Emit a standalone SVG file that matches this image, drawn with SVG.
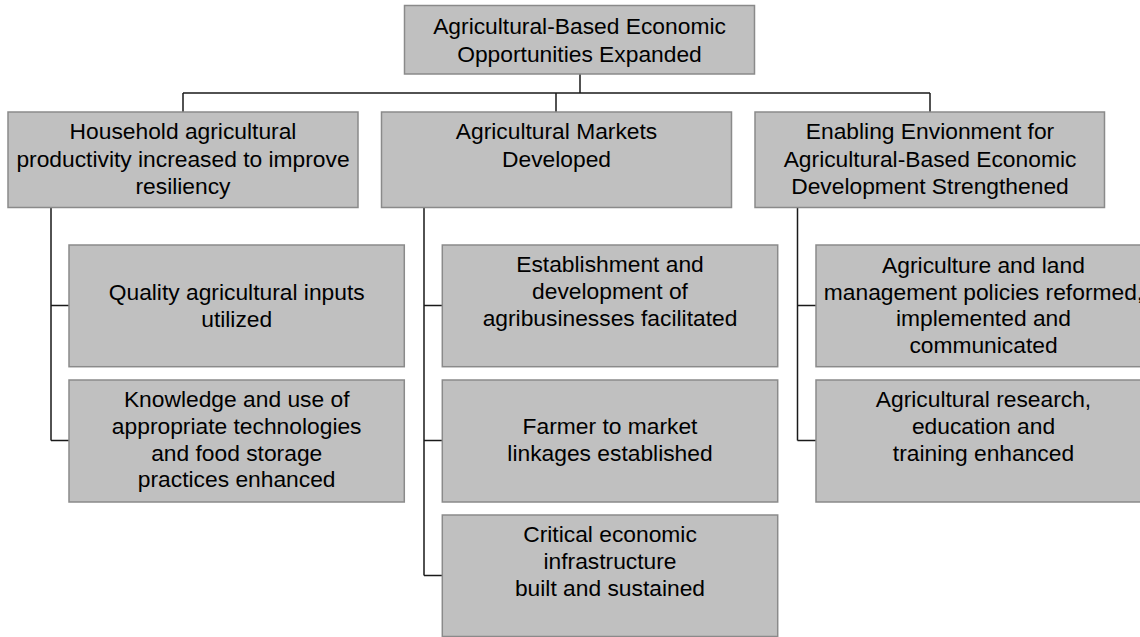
<svg xmlns="http://www.w3.org/2000/svg" width="1140" height="637" viewBox="0 0 1140 637">
<style>
.box{fill:#c0c0c0;stroke:#8a8a8a;stroke-width:1.5}
.lbl{font-family:"Liberation Sans",Arial,sans-serif;font-size:22.8px;fill:#000;text-anchor:middle}
.conn{fill:none;stroke:#1a1a1a;stroke-width:1.5}
</style>
<rect width="1140" height="637" fill="#fff"/>
<g id="connectors">
<path class="conn" d="M580 74V93M183 93H930M183 93V112M556 93V112M930 93V112"/>
<path class="conn" d="M51 207V440.5M51 305.5H69M51 440.5H69"/>
<path class="conn" d="M424 207V575.5M424 305.5H442.5M424 440.5H442.5M424 575.5H442.5"/>
<path class="conn" d="M797.5 207V440.5M797.5 305.5H816M797.5 440.5H816"/>
</g>
<g id="goal">
<rect class="box" x="404.5" y="5.5" width="350" height="68.5"/>
<text class="lbl" x="579.5" y="34.3">Agricultural-Based Economic</text>
<text class="lbl" x="579.5" y="61.7">Opportunities Expanded</text>
</g>
<g id="ir1">
<rect class="box" x="8" y="112" width="350" height="95.5"/>
<text class="lbl" x="183" y="139.3">Household agricultural</text>
<text class="lbl" x="183" y="166.8">productivity increased to improve</text>
<text class="lbl" x="183" y="194.3">resiliency</text>
</g>
<g id="ir2">
<rect class="box" x="381.5" y="112" width="350" height="95.5"/>
<text class="lbl" x="556.5" y="139.3">Agricultural Markets</text>
<text class="lbl" x="556.5" y="166.8">Developed</text>
</g>
<g id="ir3">
<rect class="box" x="755" y="112" width="349.5" height="95.5"/>
<text class="lbl" x="930" y="139.3">Enabling Envionment for</text>
<text class="lbl" x="930" y="166.8">Agricultural-Based Economic</text>
<text class="lbl" x="930" y="194.3">Development Strengthened</text>
</g>
<g id="sub11">
<rect class="box" x="69" y="245" width="335.3" height="121.7"/>
<text class="lbl" x="236.7" y="300">Quality agricultural inputs</text>
<text class="lbl" x="236.7" y="326.5">utilized</text>
</g>
<g id="sub12">
<rect class="box" x="69" y="380" width="335.3" height="122"/>
<text class="lbl" x="236.7" y="406.7">Knowledge and use of</text>
<text class="lbl" x="236.7" y="434">appropriate technologies</text>
<text class="lbl" x="236.7" y="461">and food storage</text>
<text class="lbl" x="236.7" y="487.3">practices enhanced</text>
</g>
<g id="sub21">
<rect class="box" x="442.3" y="245" width="335.4" height="121.7"/>
<text class="lbl" x="610" y="272.3">Establishment and</text>
<text class="lbl" x="610" y="299.3">development of</text>
<text class="lbl" x="610" y="326">agribusinesses facilitated</text>
</g>
<g id="sub22">
<rect class="box" x="442.3" y="380" width="335.4" height="122"/>
<text class="lbl" x="610" y="434.3">Farmer to market</text>
<text class="lbl" x="610" y="460.7">linkages established</text>
</g>
<g id="sub23">
<rect class="box" x="442.3" y="515" width="335.4" height="121.5"/>
<text class="lbl" x="610" y="542.3">Critical economic</text>
<text class="lbl" x="610" y="569.3">infrastructure</text>
<text class="lbl" x="610" y="596">built and sustained</text>
</g>
<g id="sub31">
<rect class="box" x="816" y="245" width="335.5" height="121.7"/>
<text class="lbl" x="983.5" y="272.5">Agriculture and land</text>
<text class="lbl" x="983.5" y="299.5">management policies reformed,</text>
<text class="lbl" x="983.5" y="326.3">implemented and</text>
<text class="lbl" x="983.5" y="353">communicated</text>
</g>
<g id="sub32">
<rect class="box" x="816" y="380" width="335.5" height="122"/>
<text class="lbl" x="983.5" y="407">Agricultural research,</text>
<text class="lbl" x="983.5" y="434">education and</text>
<text class="lbl" x="983.5" y="460.7">training enhanced</text>
</g>
</svg>
